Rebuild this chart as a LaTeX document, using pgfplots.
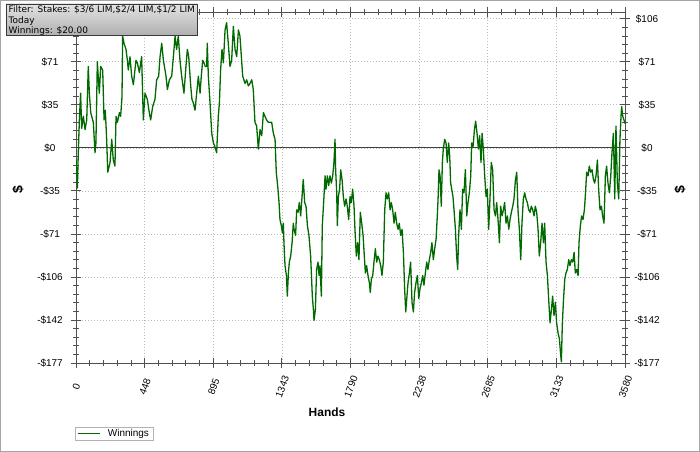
\documentclass[border=0pt]{standalone}
\usepackage{fontspec}
\setmainfont{Liberation Sans}
\newfontfamily\verdana{DejaVu Sans}
\usepackage{pgfplots}
\pgfplotsset{compat=1.18}
\definecolor{wgreen}{RGB}{0,105,0}
\definecolor{axgray}{RGB}{190,190,190}
\definecolor{tickgray}{RGB}{80,80,80}
\begin{document}
\begin{tikzpicture}[x=1bp,y=1bp]
\fill[white] (0,0) rectangle (700,452);
\draw[gray!70, line width=1bp] (0.5,0.5) rectangle (699.5,451.5);
\begin{axis}[
  at={(76bp,89bp)}, anchor=south west,
  width=549bp, height=351bp, scale only axis,
  xmin=0, xmax=3580, ymin=-177, ymax=111.8,
  xtick={0,447.5,895,1342.5,1790,2237.5,2685,3132.5,3580},
  xticklabels={0,448,895,1343,1790,2238,2685,3133,3580},
  ytick={-177,-141.6,-106.2,-70.8,-35.4,0,35.4,70.8,106.2},
  yticklabels={-\$177,-\$142,-\$106,-\$71,-\$35,\$0,\$35,\$71,\$106},
  minor x tick num=4, minor y tick num=4,
  tick align=center, major tick length=10bp, minor tick length=6bp,
  tick style={tickgray, line width=0.8bp},
  x axis line style={draw=axgray, line width=2.5bp},
  y axis line style={draw=tickgray, line width=0.8bp},
  grid=major,
  major grid style={gray!55, dash pattern=on 1bp off 2bp, line width=0.7bp},
  xticklabel style={rotate=70, anchor=center, font=\fontsize{10}{12}\selectfont, xshift=-17.5bp, yshift=-6.8bp},
  yticklabel style={anchor=center, xshift=-21bp, font=\fontsize{10}{12}\selectfont},
  legend style={at={(-0.002,-0.182)}, anchor=north west, draw=gray!60, fill=white,
    inner xsep=2.5bp, inner ysep=0.5bp, font=\fontsize{10}{11}\selectfont,
    /tikz/every odd column/.append style={column sep=5bp},
    nodes={inner ysep=1.5bp}},
  legend image code/.code={\draw[#1] (0bp,0bp) -- (22bp,0bp);},
  clip=true,
]
\addplot[gray!50!black, line width=0.8bp, forget plot] coordinates {(0,0) (3580,0)};
\addplot[wgreen, line width=1.3bp, line join=round] coordinates {
(0,-10) (9,-33) (15,-4) (22,23) (30,45) (37,16) (48,26) (59,15) (70,23) (80,67) (87,45) (96,29) (113,21) (124,-4) (130,4) (139,71) (152,45) (161,67) (174,64) (183,23) (191,31) (200,7) (207,-20) (222,-12) (233,7) (243,-10) (254,-15) (261,26) (270,21) (283,29) (291,26) (300,42) (304,92) (313,86) (326,81) (335,72) (341,64) (352,75) (363,59) (374,52) (391,72) (400,70) (413,62) (428,75) (439,23) (450,45) (465,40) (478,29) (487,23) (500,34) (515,40) (526,56) (539,59) (548,75) (559,86) (570,72) (587,59) (596,48) (609,56) (624,59) (635,75) (646,92) (656,81) (667,92) (678,72) (689,59) (704,45) (717,67) (726,81) (735,75) (748,51) (756,40) (765,37) (776,31) (787,45) (798,59) (809,45) (817,59) (826,72) (835,70) (843,67) (852,67) (856,86) (863,59) (874,37) (885,12) (896,4) (906,1) (917,-4) (928,26) (935,37) (943,64) (952,81) (961,70) (972,97) (982,103) (993,86) (1004,67) (1015,72) (1026,100) (1037,81) (1048,75) (1059,97) (1069,92) (1080,72) (1087,59) (1102,53) (1113,56) (1124,51) (1135,53) (1146,56) (1156,48) (1167,21) (1178,18) (1189,-1) (1200,15) (1211,10) (1222,29) (1232,26) (1243,23) (1254,21) (1265,21) (1276,21) (1287,12) (1298,7) (1306,-20)
(1317,-34) (1324,-45) (1330,-59) (1339,-64) (1346,-70) (1352,-62) (1356,-78) (1363,-97) (1372,-105) (1378,-122) (1385,-103) (1391,-94) (1400,-89) (1409,-78) (1417,-62) (1422,-67) (1432,-72) (1439,-51) (1448,-53) (1456,-45) (1465,-56) (1474,-40) (1482,-26) (1491,-45) (1500,-48) (1509,-64) (1519,-72) (1530,-89) (1541,-122) (1548,-133) (1552,-142) (1561,-133) (1569,-100) (1578,-94) (1585,-105) (1591,-97) (1600,-122) (1606,-64) (1617,-40) (1624,-23) (1630,-34) (1639,-23) (1648,-31) (1656,-23) (1665,-29) (1674,-23) (1682,-12) (1689,7) (1693,-18) (1700,-37) (1704,-64) (1711,-40) (1719,-34) (1726,-18) (1735,-26) (1743,-40) (1752,-48) (1761,-42) (1769,-48) (1778,-59) (1787,-40) (1795,-45) (1804,-34) (1813,-48) (1819,-67) (1828,-89) (1837,-78) (1845,-92) (1854,-53) (1863,-62) (1872,-72) (1880,-89) (1887,-103) (1895,-97) (1904,-105) (1913,-111) (1919,-119) (1926,-108) (1935,-105) (1943,-94) (1952,-83) (1961,-94) (1969,-89) (1978,-92) (1987,-97) (1995,-105) (2004,-94) (2013,-51) (2022,-37) (2030,-42) (2039,-37) (2048,-51) (2056,-45) (2065,-51) (2074,-62) (2082,-53) (2091,-62) (2100,-67) (2108,-62) (2117,-72) (2126,-67) (2135,-86) (2143,-116) (2150,-135)
(2165,-111) (2174,-103) (2182,-94) (2191,-127) (2200,-135) (2208,-119) (2217,-111) (2226,-105) (2235,-124) (2243,-116) (2252,-111) (2261,-105) (2269,-113) (2278,-103) (2287,-94) (2295,-100) (2304,-92) (2313,-86) (2321,-78) (2330,-92) (2339,-83) (2348,-75) (2356,-56) (2361,-42) (2367,-18) (2374,-23) (2382,-48) (2389,-12) (2395,-1) (2404,7) (2413,4) (2421,-12) (2430,4) (2437,-7) (2443,-29) (2450,-34) (2458,-40) (2465,-51) (2474,-67) (2482,-89) (2489,-100) (2495,-72) (2504,-51) (2513,-67) (2521,-34) (2530,-37) (2539,-18) (2548,-56) (2556,-45) (2565,-37) (2574,-23) (2580,4) (2589,1) (2598,15) (2606,22) (2615,12) (2624,-1) (2632,10) (2641,-12) (2648,12) (2656,-1) (2665,-23) (2674,-40) (2682,-34) (2691,-67) (2700,-40) (2708,-12) (2717,-18) (2726,-51) (2735,-56) (2743,-45) (2752,-59) (2761,-78) (2769,-48) (2778,-56) (2787,-51) (2795,-45) (2804,-62) (2813,-56) (2822,-67) (2830,-59) (2839,-53) (2848,-48) (2856,-42) (2865,-27) (2874,-20)
(2882,-51) (2891,-67) (2900,-92) (2908,-62) (2917,-42) (2926,-37) (2934,-42) (2943,-45) (2952,-51) (2961,-53) (2969,-48) (2978,-51) (2987,-56) (2995,-48) (3004,-53) (3013,-67) (3021,-89) (3030,-78) (3039,-62) (3048,-78) (3056,-62) (3065,-94) (3074,-105) (3082,-124) (3091,-144) (3100,-133) (3108,-122) (3117,-138) (3126,-127) (3134,-144) (3143,-152) (3152,-157) (3161,-171) (3165,-176) (3171,-146) (3178,-127) (3187,-108) (3195,-103) (3204,-100) (3213,-92) (3221,-97) (3230,-92) (3239,-94) (3248,-86) (3256,-103) (3265,-100) (3274,-105) (3280,-78) (3289,-64) (3297,-56) (3306,-59) (3315,-51) (3321,-40) (3330,-20) (3339,-23) (3347,-15) (3356,-20) (3365,-18) (3374,-26) (3382,-29) (3391,-23) (3400,-10) (3408,-34) (3417,-51) (3426,-48) (3434,-56) (3443,-62) (3452,-23) (3460,-15) (3469,-29) (3478,-37) (3487,-23) (3495,-4) (3504,12) (3508,-10) (3513,-42) (3521,18) (3530,-29) (3539,-42) (3547,7) (3554,26) (3558,34) (3565,26) (3573,23) (3580,20)
};
\addlegendentry{Winnings}
\end{axis}
\begin{axis}[
  at={(76bp,89bp)}, anchor=south west,
  width=549bp, height=351bp, scale only axis,
  xmin=0, xmax=3580, ymin=-177, ymax=111.8,
  axis x line=none, axis y line*=right,
  y axis line style={draw=none},
  ytick={-177,-141.6,-106.2,-70.8,-35.4,0,35.4,70.8,106.2},
  yticklabels={-\$177,-\$142,-\$106,-\$71,-\$35,\$0,\$35,\$71,\$106},
  tick style={draw=none}, major tick length=10bp,
  yticklabel style={anchor=center, xshift=22bp, font=\fontsize{10}{12}\selectfont},
]
\end{axis}
\node[rotate=90, font=\bfseries\fontsize{14}{14}\selectfont] at (18,262) {\$};
\node[rotate=90, font=\bfseries\fontsize{14}{14}\selectfont] at (680,262) {\$};
\node[font=\bfseries\fontsize{12}{12}\selectfont] at (327,40) {Hands};
\shade[top color=gray!22, bottom color=gray!62] (6,417) rectangle (197,448);
\draw[gray!45!black, line width=0.8bp] (6,417) rectangle (197,448);
\node[anchor=north west, align=left, inner sep=0pt, font=\verdana\fontsize{9}{10.6}\selectfont] at (8.5,446.5) {Filter: Stakes: \$3/6 LIM,\$2/4 LIM,\$1/2 LIM\\Today\\Winnings: \$20.00};
\end{tikzpicture}
\end{document}
